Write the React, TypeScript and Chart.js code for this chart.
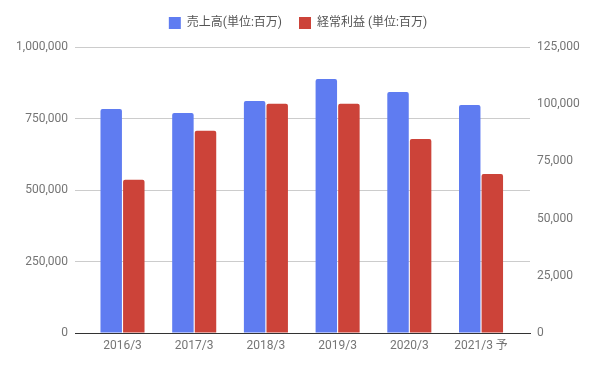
import React, { useEffect, useRef } from "react";
import { Chart, registerables } from "chart.js";

Chart.register(...registerables);

const categories = ["2016/3", "2017/3", "2018/3", "2019/3", "2020/3", "2021/3 予"];
const salesLabel = "売上高(単位:百万)";
const profitLabel = "経常利益 (単位:百万)";
const sales = [783000, 769000, 811000, 888000, 843000, 797000];
const profit = [67000, 88400, 100200, 100200, 84800, 69500];
const leftTicks = [0, 250000, 500000, 750000, 1000000];
const rightTicks = [0, 25000, 50000, 75000, 100000, 125000];

const FONT = "Roboto, 'Noto Sans CJK JP', sans-serif";
const fmt = (v: number) => v.toLocaleString("en-US");

export default function App() {
  const ref = useRef<HTMLCanvasElement | null>(null);
  useEffect(() => {
    if (!ref.current) return;
    const legendPad = {
      id: "legendPad",
      beforeInit(chart: any) {
        const lg = chart.legend;
        if (lg) {
          const orig = lg.fit;
          lg.fit = function () {
            orig.call(this);
            this.height += 8;
          };
        }
      },
    };
    const chart = new Chart(ref.current, {
      type: "bar",
      data: {
        datasets: [
          {
            label: salesLabel,
            data: categories.map((_, i) => ({ x: i, y: sales[i] })),
            backgroundColor: "#5f7cf1",
            borderRadius: 2,
            yAxisID: "y",
            categoryPercentage: 0.63,
            barPercentage: 0.95,
          },
          {
            label: profitLabel,
            data: categories.map((_, i) => ({ x: i, y: profit[i] })),
            backgroundColor: "#cc4339",
            borderRadius: 2,
            yAxisID: "y1",
            categoryPercentage: 0.63,
            barPercentage: 0.95,
          },
        ],
      },
      options: {
        responsive: false,
        animation: false,
        layout: { padding: 0 },
        plugins: {
          legend: {
            position: "top",
            labels: {
              boxWidth: 12,
              boxHeight: 12,
              padding: 17,
              color: "#555",
              font: { family: FONT, size: 12 },
            },
          },
          tooltip: { enabled: false },
        },
        scales: {
          x: {
            type: "linear",
            min: -0.6625,
            max: 5.683,
            offset: false,
            grid: { display: false, drawTicks: false },
            border: { display: true, color: "#333", width: 1 },
            ticks: {
              stepSize: 1,
              includeBounds: false,
              autoSkip: false,
              maxRotation: 0,
              padding: 6,
              color: "#757575",
              font: { family: FONT, size: 12 },
              callback: (v: any) => (Number.isInteger(v) ? categories[v] ?? "" : ""),
            },
            afterFit: (s: any) => {
              s.height = 35;
            },
          },
          y: {
            position: "left",
            min: 0,
            max: 1000000,
            grid: { color: "#cccccc", drawTicks: false },
            border: { display: false },
            afterBuildTicks: (s: any) => {
              s.ticks = leftTicks.map((v) => ({ value: v }));
            },
            ticks: {
              padding: 7,
              color: "#757575",
              font: { family: FONT, size: 12 },
              callback: (v: any) => fmt(v),
            },
            afterFit: (s: any) => {
              s.width = 75;
            },
          },
          y1: {
            position: "right",
            min: 0,
            max: 125000,
            grid: { drawOnChartArea: false, drawTicks: false },
            border: { display: false },
            afterBuildTicks: (s: any) => {
              s.ticks = rightTicks.map((v) => ({ value: v }));
            },
            ticks: {
              padding: 7,
              color: "#757575",
              font: { family: FONT, size: 12 },
              callback: (v: any) => fmt(v),
            },
            afterFit: (s: any) => {
              s.width = 66;
            },
          },
        },
      } as any,
      plugins: [legendPad],
    });
    return () => chart.destroy();
  }, []);
  return (
    <div style={{ position: "absolute", left: 0, top: 0, width: 596, height: 368, background: "#fff" }}>
      <canvas ref={ref} width={596} height={368} style={{ width: 596, height: 368 }} />
    </div>
  );
}
